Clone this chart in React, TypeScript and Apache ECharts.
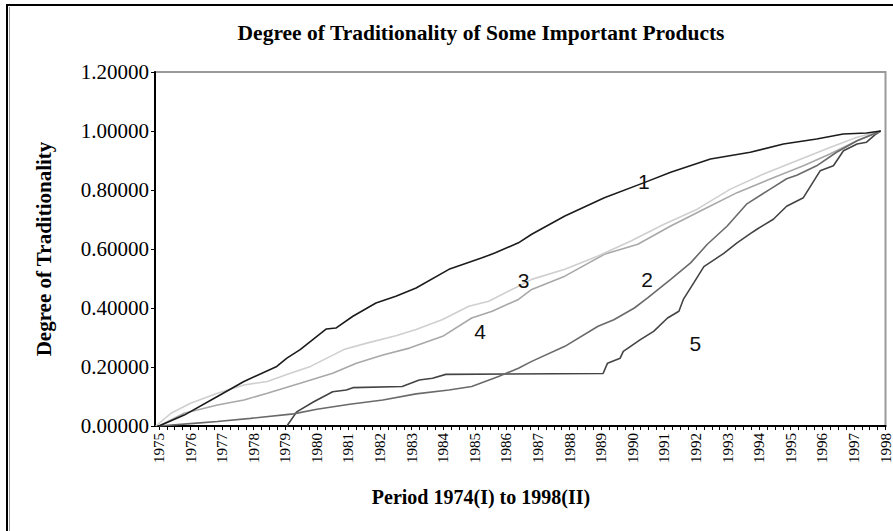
import React, { useEffect, useRef } from "react";
import * as echarts from "echarts";

const titleText = "Degree of Traditionality of Some Important Products";
const xAxisTitle = "Period 1974(I) to 1998(II)";
const yAxisTitle = "Degree of Traditionality";

const yearLabels = [1975, 1976, 1977, 1978, 1979, 1980, 1981, 1982, 1983, 1984, 1985, 1986, 1987, 1988, 1989, 1990, 1991, 1992, 1993, 1994, 1995, 1996, 1997, 1998];

// [year, degree] pairs
const product1 = [
  [1975.0, 0.0], [1975.8, 0.037], [1976.85, 0.1], [1977.69, 0.151], [1978.73, 0.202], [1979.05, 0.23],
  [1979.47, 0.259], [1980.0, 0.304], [1980.3, 0.329], [1980.6, 0.332], [1981.14, 0.372], [1981.87, 0.417],
  [1982.5, 0.44], [1983.14, 0.468], [1984.18, 0.531], [1985.23, 0.57], [1985.65, 0.587], [1986.38, 0.621],
  [1986.8, 0.65], [1987.85, 0.712], [1989.1, 0.774], [1990.36, 0.825], [1991.2, 0.86], [1992.46, 0.905],
  [1993.72, 0.928], [1994.77, 0.956], [1995.82, 0.973], [1996.66, 0.99], [1997.4, 0.993], [1997.85, 1.0],
];
const product2 = [
  [1975.0, 0.0], [1976.1, 0.009], [1976.85, 0.015], [1977.9, 0.026], [1979.26, 0.041], [1980.0, 0.057],
  [1981.04, 0.074], [1982.09, 0.088], [1983.14, 0.109], [1984.18, 0.122], [1984.9, 0.134], [1985.75, 0.168],
  [1986.38, 0.196], [1986.8, 0.219], [1987.85, 0.27], [1988.9, 0.338], [1989.4, 0.36], [1990.05, 0.4],
  [1990.47, 0.434], [1991.2, 0.497], [1991.83, 0.553], [1992.36, 0.616], [1992.99, 0.678], [1993.6, 0.752],
  [1994.35, 0.803], [1994.87, 0.838], [1995.19, 0.85], [1995.82, 0.882], [1996.45, 0.928], [1997.1, 0.967],
  [1997.85, 1.0],
];
const product3 = [
  [1974.9, 0.0], [1975.38, 0.043], [1976.0, 0.077], [1976.85, 0.111], [1977.69, 0.139], [1978.43, 0.151],
  [1979.16, 0.179], [1979.8, 0.202], [1980.85, 0.259], [1981.58, 0.281], [1982.5, 0.306], [1983.14, 0.327],
  [1983.98, 0.361], [1984.81, 0.406], [1985.44, 0.423], [1986.38, 0.474], [1986.8, 0.497], [1987.85, 0.531],
  [1988.9, 0.576], [1989.94, 0.627], [1990.99, 0.684], [1992.04, 0.735], [1993.09, 0.803], [1994.14, 0.854],
  [1995.19, 0.899], [1996.24, 0.944], [1997.1, 0.979], [1997.85, 1.0],
];
const product4 = [
  [1975.0, 0.0], [1975.8, 0.043], [1976.85, 0.071], [1977.69, 0.088], [1978.43, 0.111], [1979.47, 0.145],
  [1980.5, 0.179], [1981.25, 0.213], [1982.09, 0.241], [1982.93, 0.264], [1983.98, 0.304], [1984.9, 0.366],
  [1985.55, 0.389], [1986.38, 0.429], [1986.8, 0.463], [1987.85, 0.508], [1989.1, 0.582], [1990.16, 0.616],
  [1991.2, 0.678], [1992.25, 0.735], [1993.3, 0.791], [1994.35, 0.837], [1995.4, 0.882], [1996.24, 0.922],
  [1997.1, 0.967], [1997.85, 1.0],
];
const product5 = [
  [1979.05, 0.0], [1979.36, 0.048], [1979.9, 0.082], [1980.5, 0.116], [1980.93, 0.122], [1981.14, 0.13],
  [1982.7, 0.134], [1983.24, 0.156], [1983.66, 0.162], [1984.08, 0.175], [1989.06, 0.178], [1989.2, 0.213],
  [1989.6, 0.23], [1989.7, 0.253], [1990.24, 0.293], [1990.66, 0.321], [1991.1, 0.366], [1991.46, 0.389],
  [1991.6, 0.429], [1991.93, 0.485], [1992.25, 0.54], [1992.88, 0.585], [1993.3, 0.621], [1993.72, 0.652],
  [1993.93, 0.667], [1994.45, 0.701], [1994.87, 0.745], [1995.4, 0.774], [1995.93, 0.865], [1996.35, 0.882],
  [1996.67, 0.933], [1997.1, 0.956], [1997.4, 0.962], [1997.7, 0.99], [1997.85, 1.0],
];

const seriesNames = ["1", "2", "3", "4", "5"];
const seriesData = [product1, product2, product3, product4, product5];
const seriesColors = ["#1c1c1c", "#6a6a6a", "#cfcfcf", "#a8a8a8", "#444444"];
// label anchor positions [year, degree]
const labelPositions = [
  [1990.35, 0.83], [1990.45, 0.497], [1986.54, 0.494], [1985.17, 0.321], [1991.98, 0.281],
];

export default function App() {
  const ref = useRef<HTMLDivElement>(null);
  useEffect(() => {
    if (!ref.current) return;
    const chart = echarts.init(ref.current, null, { renderer: "svg" });
    const quarterTicks = yearLabels.flatMap((y) => [y, y + 0.25, y + 0.5, y + 0.75]).filter((v) => v <= 1998);
    const serif = "'Liberation Serif', 'Times New Roman', serif";
    chart.setOption({
      animation: false,
      backgroundColor: "#ffffff",
      title: [
        {
          text: titleText,
          left: 481,
          textAlign: "center",
          top: 22,
          padding: 0,
          textStyle: { fontFamily: serif, fontWeight: "bold", fontSize: 21.5, color: "#000" },
        },
        {
          text: xAxisTitle,
          left: 481,
          textAlign: "center",
          top: 487,
          padding: 0,
          textStyle: { fontFamily: serif, fontWeight: "bold", fontSize: 20, color: "#000" },
        },
      ],
      graphic: [
        {
          type: "rect",
          shape: { x: 7, y: 5, width: 1000, height: 1000 },
          style: { fill: "none", stroke: "#000", lineWidth: 2 },
          silent: true,
        },
        {
          type: "line",
          shape: { x1: 9.5, y1: 7, x2: 9.5, y2: 531 },
          style: { stroke: "#999", lineWidth: 1 },
          silent: true,
        },
      ],
      grid: {
        left: 155,
        top: 72,
        right: 4,
        bottom: 105,
        show: true,
        borderColor: "#9a9a9a",
        borderWidth: 2,
        containLabel: false,
      },
      xAxis: {
        type: "value",
        min: 1974.875,
        max: 1998,
        splitLine: { show: false },
        axisLine: { show: true, onZero: false, lineStyle: { color: "#000", width: 2 } },
        axisTick: { show: true, length: 4, customValues: quarterTicks, lineStyle: { color: "#000", width: 1 } },
        axisLabel: {
          customValues: yearLabels,
          rotate: 90,
          margin: 7,
          fontFamily: serif,
          fontSize: 15,
          color: "#000",
          formatter: (v: number) => String(Math.round(v)),
        },
      },
      yAxis: {
        type: "value",
        min: 0,
        max: 1.2,
        interval: 0.2,
        splitLine: { show: false },
        axisLine: { show: true, lineStyle: { color: "#000", width: 2 } },
        axisTick: { show: true, length: 4, lineStyle: { color: "#000" } },
        axisLabel: {
          margin: 6,
          fontFamily: serif,
          fontSize: 21,
          color: "#000",
          formatter: (v: number) => v.toFixed(5),
        },
        name: yAxisTitle,
        nameLocation: "middle",
        nameGap: 101,
        nameTextStyle: { fontFamily: serif, fontWeight: "bold", fontSize: 21, color: "#000" },
      },
      series: seriesNames.map((name, i) => ({
        name,
        type: "line",
        data: seriesData[i],
        showSymbol: false,
        symbol: "none",
        z: 10 - i,
        lineStyle: { color: seriesColors[i], width: 1.6 },
        markPoint: {
          symbol: "circle",
          symbolSize: 0,
          data: [{ coord: labelPositions[i], value: name }],
          label: {
            show: true,
            position: "inside",
            formatter: name,
            fontFamily: "'Liberation Sans', Arial, sans-serif",
            fontSize: 21,
            color: "#111",
          },
          z: 20,
        },
      })),
    });
    return () => chart.dispose();
  }, []);
  return (
    <div
      ref={ref}
      style={{ position: "absolute", left: 0, top: 0, width: 893, height: 531, background: "#fff" }}
    />
  );
}
